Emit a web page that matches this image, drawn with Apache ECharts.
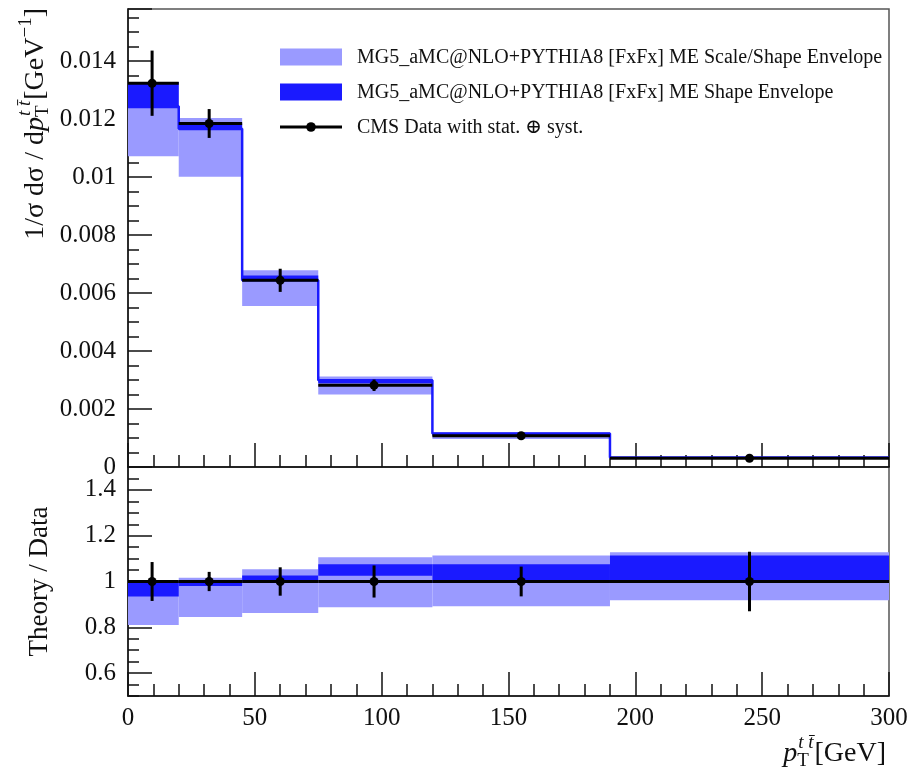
<!DOCTYPE html>
<html>
<head>
<meta charset="utf-8">
<script src="https://cdn.jsdelivr.net/npm/echarts@6/dist/echarts.min.js"></script>
<style>
  html, body { margin: 0; padding: 0; background: #ffffff; }
  #chart { width: 911px; height: 768px; }
</style>
</head>
<body>
<div id="chart"></div>
<script>
// Bin edges in pT(tt̄) [GeV]
const binLo = [0, 20, 45, 75, 120, 190];
const binHi = [20, 45, 75, 120, 190, 300];

// CMS data: marker position, normalised cross section, relative uncertainty (stat ⊕ syst)
const dataX = [9.5, 32, 60, 97, 155, 245];
const dataY = [0.01324, 0.01185, 0.00644, 0.00282, 0.00108, 0.00030];
const dataRelErr = [0.085, 0.042, 0.062, 0.07, 0.065, 0.13];

// MG5_aMC@NLO+PYTHIA8 [FxFx], expressed as theory / data
const nominalRatio = [0.94, 0.985, 1.0, 1.06, 1.07, 1.1];
const scaleShapeLo = [0.81, 0.845, 0.862, 0.888, 0.892, 0.918];
const scaleShapeHi = [1.003, 1.016, 1.054, 1.106, 1.113, 1.128];
const shapeLo = [0.935, 0.98, 1.0, 1.025, 0.993, 1.0];
const shapeHi = [1.003, 1.0, 1.026, 1.075, 1.075, 1.114];

// Tick labels
const ratioYTicks = [0.6, 0.8, 1, 1.2, 1.4];

const legendNames = [
  'MG5_aMC@NLO+PYTHIA8 [FxFx] ME Scale/Shape Envelope',
  'MG5_aMC@NLO+PYTHIA8 [FxFx] ME Shape Envelope',
  'CMS Data with stat. \u2295 syst.'
];

const LIGHT = '#9a9aff';
const DARK = '#1a1aff';
const INK = '#111111';
const FRAME = '#555555';
const FONT = '"Liberation Serif", "DejaVu Serif", serif';

// ---------- series helpers ----------
function bandRows(lo, hi, scaleBy) {
  return binLo.map((x0, i) => {
    const s = scaleBy ? scaleBy[i] : 1;
    return [x0, binHi[i], lo[i] * s, hi[i] * s];
  });
}

function bandSeries(name, gridIdx, yIdx, rows, color, z) {
  return {
    type: 'custom', name: name, xAxisIndex: gridIdx, yAxisIndex: yIdx,
    data: rows, encode: { x: [0, 1], y: [2, 3] }, silent: true, z: z,
    renderItem: function (params, api) {
      const a = api.coord([api.value(0), api.value(3)]);
      const b = api.coord([api.value(1), api.value(2)]);
      return {
        type: 'rect',
        shape: { x: a[0], y: a[1], width: b[0] - a[0], height: b[1] - a[1] },
        style: { fill: color }
      };
    }
  };
}

function dataSeries(gridIdx, yIdx, rows) {
  return {
    type: 'custom', name: legendNames[2], xAxisIndex: gridIdx, yAxisIndex: yIdx,
    data: rows, encode: { x: [0, 1], y: 3 }, silent: true, z: 10,
    renderItem: function (params, api) {
      const lo = api.value(0), hi = api.value(1), x = api.value(2), y = api.value(3), e = api.value(4);
      const pL = api.coord([lo, y]), pR = api.coord([hi, y]);
      const pT = api.coord([x, y + e]), pB = api.coord([x, y - e]);
      const pC = api.coord([x, y]);
      return {
        type: 'group',
        children: [
          { type: 'line', shape: { x1: pL[0], y1: pL[1], x2: pR[0], y2: pR[1] }, style: { stroke: '#000', lineWidth: 3 } },
          { type: 'line', shape: { x1: pT[0], y1: pT[1], x2: pB[0], y2: pB[1] }, style: { stroke: '#000', lineWidth: 3 } },
          { type: 'circle', shape: { cx: pC[0], cy: pC[1], r: 4.5 }, style: { fill: '#000' } }
        ]
      };
    }
  };
}

// absolute predictions = ratio x data
const mainDataRows = binLo.map((x0, i) => [x0, binHi[i], dataX[i], dataY[i], dataY[i] * dataRelErr[i]]);
const ratioDataRows = binLo.map((x0, i) => [x0, binHi[i], dataX[i], 1, dataRelErr[i]]);
const nominalSteps = [];
binLo.forEach((x0, i) => {
  const v = nominalRatio[i] * dataY[i];
  nominalSteps.push([x0, v], [binHi[i], v]);
});

// ---------- axes ----------
const tickStyle = { color: INK, width: 1.5 };
function xAxisDef(gridIdx, showLabels) {
  return {
    type: 'value', gridIndex: gridIdx, min: 0, max: 300, interval: 50, position: 'bottom',
    axisLine: { show: true, lineStyle: tickStyle },
    axisTick: { show: true, inside: true, length: 24, lineStyle: tickStyle },
    minorTick: { show: true, splitNumber: 5, length: 12, lineStyle: tickStyle },
    splitLine: { show: false },
    axisLabel: { show: showLabels, margin: 10, color: '#111', fontFamily: FONT, fontSize: 25 }
  };
}

// ---------- graphic titles (rich math-like labels) ----------
const measureCtx = document.createElement('canvas').getContext('2d');
function textWidth(s, size, italic) {
  measureCtx.font = (italic ? 'italic ' : '') + size + 'px ' + FONT;
  return measureCtx.measureText(s).width;
}
// pieces: {t, size, dy, italic} or {sub, sup, size, dsub, dsup}
function buildLabel(pieces) {
  const children = [];
  let x = 0;
  pieces.forEach(p => {
    if (p.sub !== undefined) {
      const w1 = textWidth(p.sub, p.size, false);
      const w2 = textWidth(p.sup, p.size, true);
      children.push({ type: 'text', x: x, y: p.dsub, style: { text: p.sub, font: p.size + 'px ' + FONT, fill: '#111', verticalAlign: 'middle' } });
      children.push({ type: 'text', x: x + 1, y: p.dsup, style: { text: p.sup, font: 'italic ' + p.size + 'px ' + FONT, fill: '#111', verticalAlign: 'middle' } });
      x += Math.max(w1, w2 + 1) + 1;
    } else {
      children.push({ type: 'text', x: x, y: p.dy || 0, style: { text: p.t, font: (p.italic ? 'italic ' : '') + p.size + 'px ' + FONT, fill: '#111', verticalAlign: 'middle' } });
      x += textWidth(p.t, p.size, p.italic);
    }
  });
  return { children: children, width: x };
}

const yTitleMain = buildLabel([
  { t: '1/\u03c3 d\u03c3 / d', size: 28 },
  { t: 'p', size: 28, italic: true },
  { sub: 'T', sup: 't t\u0304', size: 19, dsub: 7, dsup: -11 },
  { t: '[GeV', size: 28 },
  { t: '\u22121', size: 19, dy: -10 },
  { t: ']', size: 28 }
]);
const xTitle = buildLabel([
  { t: 'p', size: 28, italic: true },
  { sub: 'T', sup: 't t\u0304', size: 19, dsub: 7, dsup: -11 },
  { t: '[GeV]', size: 28 }
]);
const ratioTitle = buildLabel([{ t: 'Theory / Data', size: 27 }]);

// legend rows
const legendX = 280, legendW = 62, textX = 357;
const rowY = [57, 92, 127];
const legendGraphics = [
  { type: 'rect', shape: { x: legendX, y: rowY[0] - 8.5, width: legendW, height: 17 }, style: { fill: LIGHT } },
  { type: 'rect', shape: { x: legendX, y: rowY[1] - 8.5, width: legendW, height: 17 }, style: { fill: DARK } },
  { type: 'line', shape: { x1: legendX, y1: rowY[2], x2: legendX + legendW, y2: rowY[2] }, style: { stroke: '#000', lineWidth: 3 } },
  { type: 'circle', shape: { cx: legendX + legendW / 2, cy: rowY[2], r: 4.8 }, style: { fill: '#000' } }
];
legendNames.forEach((n, i) => {
  legendGraphics.push({ type: 'text', x: textX, y: rowY[i] + 1, style: { text: n, font: '20px ' + FONT, fill: '#111', verticalAlign: 'middle' } });
});

const chart = echarts.init(document.getElementById('chart'), null, { renderer: 'canvas' });
chart.setOption({
  animation: false,
  backgroundColor: '#ffffff',
  grid: [
    { left: 128, top: 9, width: 761, height: 458, show: true, borderColor: FRAME, borderWidth: 1.5, backgroundColor: 'transparent' },
    { left: 128, top: 467, width: 761, height: 229, show: true, borderColor: FRAME, borderWidth: 1.5, backgroundColor: 'transparent' }
  ],
  xAxis: [xAxisDef(0, false), xAxisDef(1, true)],
  yAxis: [
    {
      type: 'value', gridIndex: 0, min: 0, max: 0.0158, interval: 0.002, position: 'left',
      axisLine: { show: true, lineStyle: tickStyle },
      axisTick: { show: true, inside: true, length: 24, lineStyle: tickStyle },
      minorTick: { show: true, splitNumber: 4, length: 11, lineStyle: tickStyle },
      splitLine: { show: false },
      axisLabel: {
        margin: 12, color: '#111', fontFamily: FONT, fontSize: 25, showMaxLabel: false,
        formatter: v => (v === 0 ? '0' : String(+v.toFixed(3)))
      }
    },
    {
      type: 'value', gridIndex: 1, min: 0.5, max: 1.5, interval: 0.05, position: 'left',
      axisLine: { show: true, lineStyle: tickStyle },
      axisTick: { show: true, inside: true, length: 11, lineStyle: tickStyle },
      splitLine: { show: false },
      axisLabel: { show: false }
    },
    {
      type: 'value', gridIndex: 1, min: 0.5, max: 1.5, position: 'left',
      axisLine: { show: false },
      axisTick: { show: true, inside: true, length: 24, lineStyle: tickStyle, customValues: ratioYTicks },
      splitLine: { show: false },
      axisLabel: { margin: 12, color: '#111', fontFamily: FONT, fontSize: 25, customValues: ratioYTicks }
    }
  ],
  series: [
    bandSeries(legendNames[0], 0, 0, bandRows(scaleShapeLo, scaleShapeHi, dataY), LIGHT, 1),
    bandSeries(legendNames[1], 0, 0, bandRows(shapeLo, shapeHi, dataY), DARK, 2),
    {
      type: 'line', name: 'nominal', xAxisIndex: 0, yAxisIndex: 0, data: nominalSteps,
      showSymbol: false, silent: true, z: 3,
      lineStyle: { color: DARK, width: 2.5 }
    },
    dataSeries(0, 0, mainDataRows),
    bandSeries(legendNames[0], 1, 1, bandRows(scaleShapeLo, scaleShapeHi), LIGHT, 1),
    bandSeries(legendNames[1], 1, 1, bandRows(shapeLo, shapeHi), DARK, 2),
    dataSeries(1, 1, ratioDataRows)
  ],
  graphic: [
    { type: 'group', x: 36, y: 8 + yTitleMain.width, rotation: Math.PI / 2, children: yTitleMain.children },
    { type: 'group', x: 40, y: 581.5 + ratioTitle.width / 2, rotation: Math.PI / 2, children: ratioTitle.children },
    { type: 'group', x: 886 - xTitle.width, y: 754, children: xTitle.children },
    { type: 'group', children: legendGraphics }
  ]
});
</script>
</body>
</html>
